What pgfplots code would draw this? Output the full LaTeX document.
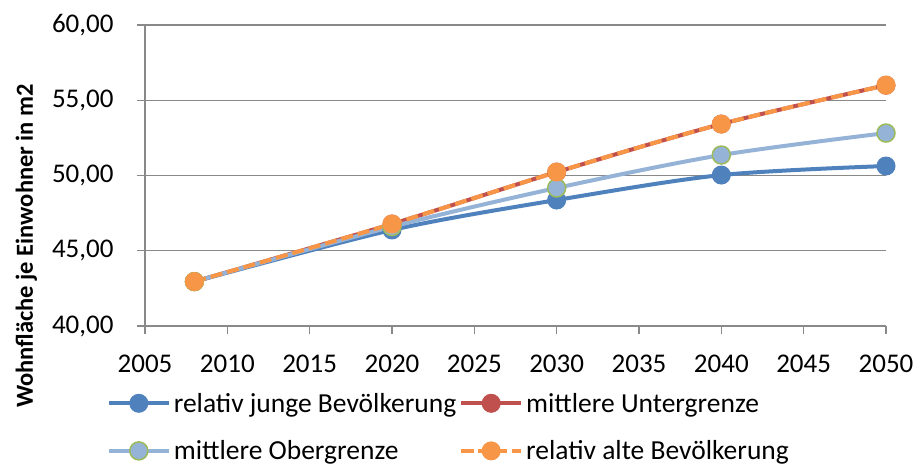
\documentclass[border=0pt]{standalone}
\usepackage{fontspec}
\setmainfont{Carlito}
\usepackage{pgfplots}
\pgfplotsset{compat=1.18}
\definecolor{cblue}{HTML}{4F81BD}
\definecolor{cred}{HTML}{C0504D}
\definecolor{clblue}{HTML}{95B3D7}
\definecolor{cgreen}{HTML}{9BBB59}
\definecolor{corange}{HTML}{F79646}
\definecolor{cgrid}{HTML}{898989}
\begin{document}
\begin{tikzpicture}
\useasboundingbox (-145bp,-147bp) rectangle (771bp,326bp);
\begin{axis}[
  at={(0,0)}, anchor=south west,
  scale only axis, width=741bp, height=301bp,
  xmin=2005, xmax=2050, ymin=40, ymax=60,
  xtick={2005,2010,...,2050}, ytick={40,45,...,60},
  axis lines*=left,
  axis line style={cgrid, line width=1.2bp, -},
  ymajorgrids, grid style={cgrid, line width=1.2bp},
  tick style={cgrid, line width=1.2bp},
  tick align=outside, major tick length=8bp,
  font=\fontsize{27bp}{32bp}\selectfont,
  /pgf/number format/assume math mode=true,
  yticklabel style={xshift=-20bp, /pgf/number format/.cd, fixed, fixed zerofill, precision=2, use comma},
  xticklabel style={yshift=-17bp, /pgf/number format/.cd, 1000 sep={}},
  ylabel={\fontsize{24.5bp}{29bp}\selectfont\bfseries Wohnfläche je Einwohner in m2},
  ylabel style={at={(axis description cs:-0.160,0.266)}, anchor=center},
  legend columns=2,
  legend cell align=left,
  legend style={draw=none, fill=none, at={(axis description cs:0.41,-0.212)}, anchor=north,
    font=\fontsize{27.5bp}{32bp}\selectfont, row sep=23bp, column sep=1bp, inner sep=1bp,
    /tikz/every even column/.append style={column sep=1bp}},
  legend image code/.code={\draw[mark repeat=2,mark phase=2] plot coordinates {(0bp,0bp) (30bp,0bp) (60bp,0bp)};},
  every axis plot/.append style={line width=4bp, mark=*, mark size=9bp},
]
\addplot[smooth, cblue, mark options={fill=cblue, draw=cblue, line width=1bp, solid}] coordinates {(2008,42.95) (2020,46.38) (2030,48.37) (2040,50.03) (2050,50.63)};
\addlegendentry{relativ junge Bevölkerung}
\addplot[smooth, cred, mark options={fill=cred, draw=cred, line width=1bp, solid}] coordinates {(2008,42.95) (2020,46.78) (2030,50.23) (2040,53.42) (2050,56.00)};
\addlegendentry{mittlere Untergrenze}
\addplot[smooth, clblue, mark options={fill=clblue, draw=cgreen, line width=1.5bp, solid}] coordinates {(2008,42.95) (2020,46.60) (2030,49.17) (2040,51.36) (2050,52.82)};
\addlegendentry{mittlere Obergrenze}
\addplot[smooth, corange, dash pattern=on 12bp off 5bp, mark options={fill=corange, draw=corange, line width=1bp, solid}] coordinates {(2008,42.95) (2020,46.78) (2030,50.23) (2040,53.42) (2050,56.00)};
\addlegendentry{relativ alte Bevölkerung}
\end{axis}
\end{tikzpicture}
\end{document}
